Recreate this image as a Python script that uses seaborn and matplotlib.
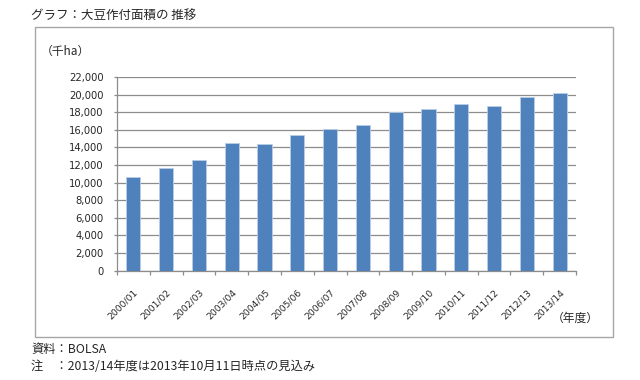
import matplotlib
matplotlib.use("Agg")
import matplotlib.pyplot as plt
import seaborn as sns
import pandas as pd
from matplotlib.patches import Rectangle
from matplotlib.ticker import FixedLocator

years = ["2000/01", "2001/02", "2002/03", "2003/04", "2004/05", "2005/06", "2006/07",
         "2007/08", "2008/09", "2009/10", "2010/11", "2011/12", "2012/13", "2013/14"]
area = [10660, 11640, 12600, 14530, 14400, 15400, 16150,
        16600, 18000, 18350, 18900, 18650, 19750, 20200]
yticks = list(range(0, 22001, 2000))
ytick_labels = [f"{v:,}" for v in yticks]

sns.set_theme(style="white")
plt.rcParams['font.family'] = ['Noto Sans CJK JP', 'DejaVu Sans']

df = pd.DataFrame({"year": years, "area": area})

fig = plt.figure(figsize=(6.4, 3.8), dpi=100)
ax = fig.add_axes([117/640, 1-270.7/380, (576-117)/640, (270.7-77)/380])

sns.barplot(data=df, x="year", y="area", ax=ax, color="#4F81BD", saturation=1,
            width=0.43, edgecolor="#B9CDE5", linewidth=0.6, zorder=3)

ax.set_xlim(-0.5, len(years) - 0.5)
ax.set_ylim(0, 22000)
ax.set_yticks(yticks, labels=ytick_labels, fontfamily="DejaVu Sans", fontsize=7.2)
ax.grid(axis="y", color="#8C8C8C", linewidth=0.9, zorder=0)
ax.set_axisbelow(True)

for s in ["top", "right"]:
    ax.spines[s].set_visible(False)
ax.spines["left"].set_color("#8C8C8C")
ax.spines["bottom"].set_color("#8C8C8C")
ax.spines["left"].set_linewidth(0.9)
ax.spines["bottom"].set_linewidth(0.9)

ax.tick_params(axis="y", which="major", left=True, length=2.5, color="#8C8C8C",
               pad=7, width=0.9)
ax.set_xticks(range(len(years)))
ax.set_xticklabels(years, rotation=45, ha="right", va="top", rotation_mode="anchor",
                   fontfamily="DejaVu Sans", fontsize=6.6)
ax.tick_params(axis="x", which="major", bottom=False, pad=6)
ax.xaxis.set_minor_locator(FixedLocator([i - 0.5 for i in range(len(years) + 1)]))
ax.tick_params(axis="x", which="minor", bottom=True, length=3, color="#8C8C8C", width=0.9)
ax.set_xlabel("")
ax.set_ylabel("")

# chart border
fig.patches.append(Rectangle((35/640, 1-337/380), (613-35)/640, (337-27)/380,
                             transform=fig.transFigure, fill=False,
                             edgecolor="#A6A6A6", linewidth=1.0))

fig.text(31/640, 1-15/380, "グラフ：大豆作付面積の 推移", fontsize=9, va="center", ha="left")
fig.text(41/640, 1-51/380, "（千ha）", fontsize=8.5, va="center", ha="left")
fig.text(552/640, 1-318/380, "（年度）", fontsize=8.5, va="center", ha="left")
fig.text(31/640, 1-349/380, "資料：BOLSA", fontsize=8.8, va="center", ha="left")
fig.text(31/640, 1-366/380, "注　：2013/14年度は2013年10月11日時点の見込み", fontsize=8.8,
         va="center", ha="left")

fig.savefig("out.png", dpi=100)
